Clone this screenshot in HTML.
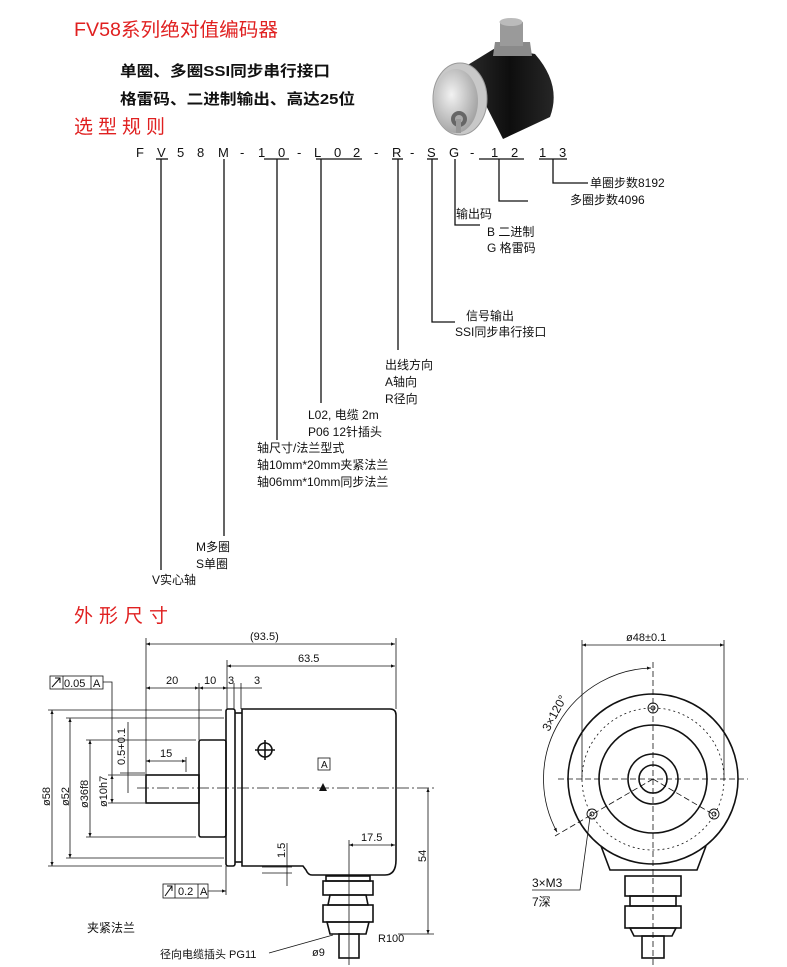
<!DOCTYPE html>
<html><head><meta charset="utf-8"><style>
html,body{margin:0;padding:0;background:#fff;}
svg{display:block;}
text{font-family:"Liberation Sans","Noto Sans CJK SC",sans-serif;fill:#111;}
.r{fill:#e02020;}
</style></head><body>
<svg width="787" height="967" viewBox="0 0 787 967" xmlns="http://www.w3.org/2000/svg">
<defs>
<radialGradient id="face" cx="0.4" cy="0.4" r="0.7"><stop offset="0" stop-color="#f2f2f2"/><stop offset="1" stop-color="#9a9a9a"/></radialGradient>
<linearGradient id="body" x1="0" y1="0" x2="1" y2="0"><stop offset="0" stop-color="#2a2a2a"/><stop offset="0.5" stop-color="#0e0e0e"/><stop offset="1" stop-color="#262626"/></linearGradient>
<marker id="ar" viewBox="0 0 10 10" refX="10" refY="5" markerWidth="7" markerHeight="5" orient="auto-start-reverse"><path d="M0,1 L10,5 L0,9z" fill="#111"/></marker>
</defs>

<!-- Header -->
<text x="74" y="36" font-size="19" class="r" textLength="204" lengthAdjust="spacingAndGlyphs">FV58系列绝对值编码器</text>
<text x="120" y="76" font-size="15" font-weight="bold" textLength="210" lengthAdjust="spacingAndGlyphs">单圈、多圈SSI同步串行接口</text>
<text x="120" y="104" font-size="15" font-weight="bold" textLength="235" lengthAdjust="spacingAndGlyphs">格雷码、二进制输出、高达25位</text>
<text x="74" y="133" font-size="19" class="r" letter-spacing="5">选型规则</text>

<!-- Photo -->
<g>
<path d="M466,66 L497,47 L535,54 Q562,85 550,117 L503,139 Z" fill="url(#body)"/>
<path d="M495,42 L530,42 L532,56 L493,56Z" fill="#8a8a8a"/>
<rect x="500" y="22" width="23" height="24" fill="#9a9a9a"/>
<ellipse cx="511" cy="22" rx="11.5" ry="4" fill="#bbb"/>
<ellipse cx="460" cy="99" rx="27" ry="36" fill="#c8c8c8" stroke="#999"/>
<ellipse cx="456" cy="101" rx="22" ry="32" fill="url(#face)"/>
<circle cx="459" cy="119" r="8" fill="#666"/>
<circle cx="459" cy="119" r="4" fill="#aaa"/>
<rect x="456" y="119" width="5" height="14" fill="#999"/>
</g>

<!-- Code -->
<g font-size="13">
<text x="136" y="157">F</text><text x="157" y="157">V</text><text x="177" y="157">5</text><text x="197" y="157">8</text><text x="218" y="157">M</text><text x="240" y="157">-</text><text x="258" y="157">1</text><text x="278" y="157">0</text><text x="297" y="157">-</text><text x="314" y="157">L</text><text x="334" y="157">0</text><text x="353" y="157">2</text><text x="374" y="157">-</text><text x="392" y="157">R</text><text x="410" y="157">-</text><text x="427" y="157">S</text><text x="449" y="157">G</text><text x="470" y="157">-</text><text x="491" y="157">1</text><text x="511" y="157">2</text><text x="539" y="157">1</text><text x="559" y="157">3</text>
</g>
<g stroke="#111" stroke-width="1.3" fill="none">
<line x1="156" y1="159" x2="168" y2="159"/><line x1="264" y1="159" x2="289" y2="159"/><line x1="316" y1="159" x2="362" y2="159"/><line x1="392" y1="159" x2="403" y2="159"/><line x1="427" y1="159" x2="438" y2="159"/><line x1="479" y1="159" x2="524" y2="159"/><line x1="539" y1="159" x2="567" y2="159"/>
<line x1="161" y1="159" x2="161" y2="570"/>
<line x1="224" y1="159" x2="224" y2="536"/>
<line x1="277" y1="159" x2="277" y2="440"/>
<line x1="321" y1="159" x2="321" y2="403"/>
<line x1="398" y1="159" x2="398" y2="350"/>
<polyline points="432,159 432,322 455,322"/>
<polyline points="455,159 455,225 480,225"/>
<polyline points="499,159 499,201 528,201"/>
<polyline points="553,159 553,183 588,183"/>
</g>
<g font-size="12">
<text x="590" y="187">单圈步数8192</text>
<text x="570" y="204">多圈步数4096</text>
<text x="456" y="218">输出码</text>
<text x="487" y="236">B 二进制</text>
<text x="487" y="252">G 格雷码</text>
<text x="466" y="320">信号输出</text>
<text x="455" y="336">SSI同步串行接口</text>
<text x="385" y="369">出线方向</text>
<text x="385" y="386">A轴向</text>
<text x="385" y="403">R径向</text>
<text x="308" y="419">L02, 电缆  2m</text>
<text x="308" y="436">P06   12针插头</text>
<text x="257" y="452">轴尺寸/法兰型式</text>
<text x="257" y="469">轴10mm*20mm夹紧法兰</text>
<text x="257" y="486">轴06mm*10mm同步法兰</text>
<text x="196" y="551">M多圈</text>
<text x="196" y="568">S单圈</text>
<text x="152" y="584">V实心轴</text>
</g>

<text x="74" y="622" font-size="19" class="r" letter-spacing="6">外形尺寸</text>

<!-- Side view -->
<g stroke="#111" stroke-width="0.8" fill="none">
<line x1="146" y1="638" x2="146" y2="775"/>
<line x1="396" y1="638" x2="396" y2="709"/>
<line x1="227" y1="660" x2="227" y2="709"/>
<line x1="199" y1="683" x2="199" y2="740"/>
<line x1="234" y1="683" x2="234" y2="709"/>
<line x1="241" y1="683" x2="241" y2="709"/>
<line x1="48" y1="710" x2="222" y2="710"/>
<line x1="66" y1="718" x2="224" y2="718"/>
<line x1="86" y1="740" x2="196" y2="740"/>
<line x1="108" y1="775" x2="145" y2="775"/>
<line x1="108" y1="803" x2="145" y2="803"/>
<line x1="86" y1="837" x2="196" y2="837"/>
<line x1="66" y1="858" x2="224" y2="858"/>
<line x1="48" y1="866" x2="222" y2="866"/>
<line x1="146" y1="644" x2="395" y2="644" marker-start="url(#ar)" marker-end="url(#ar)"/>
<line x1="227" y1="666" x2="395" y2="666" marker-start="url(#ar)" marker-end="url(#ar)"/>
<line x1="146" y1="688" x2="199" y2="688" marker-start="url(#ar)" marker-end="url(#ar)"/>
<line x1="199" y1="688" x2="227" y2="688" marker-start="url(#ar)" marker-end="url(#ar)"/>
<line x1="227" y1="688" x2="262" y2="688"/>
<line x1="146" y1="761" x2="186" y2="761" marker-start="url(#ar)" marker-end="url(#ar)"/>
<line x1="186" y1="757" x2="186" y2="772"/>
<line x1="52" y1="710" x2="52" y2="866" marker-start="url(#ar)" marker-end="url(#ar)"/>
<line x1="70" y1="718" x2="70" y2="858" marker-start="url(#ar)" marker-end="url(#ar)"/>
<line x1="90" y1="740" x2="90" y2="837" marker-start="url(#ar)" marker-end="url(#ar)"/>
<line x1="112" y1="775" x2="112" y2="803" marker-start="url(#ar)" marker-end="url(#ar)"/>
<line x1="128" y1="722" x2="128" y2="793"/>
<line x1="120" y1="773" x2="145" y2="773"/>
<line x1="428" y1="788" x2="428" y2="934" marker-start="url(#ar)" marker-end="url(#ar)"/>
<line x1="398" y1="934" x2="434" y2="934"/>
<line x1="349" y1="845" x2="395" y2="845" marker-start="url(#ar)" marker-end="url(#ar)"/>
<line x1="349" y1="840" x2="349" y2="965"/>
<line x1="287" y1="843" x2="287" y2="886"/>
<line x1="262" y1="867" x2="292" y2="867"/>
<line x1="262" y1="873" x2="292" y2="873"/>
<rect x="50" y="676" width="53" height="13"/><line x1="63" y1="676" x2="63" y2="689"/><line x1="91" y1="676" x2="91" y2="689"/>
<polyline points="103,682 112,682 112,775"/>
<rect x="163" y="884" width="45" height="14"/><line x1="175" y1="884" x2="175" y2="898"/><line x1="198" y1="884" x2="198" y2="898"/>
<line x1="208" y1="891" x2="226" y2="891" marker-end="url(#ar)"/>
<line x1="226" y1="866" x2="226" y2="895"/>
<rect x="318" y="758" width="12" height="12"/>
<line x1="137" y1="788" x2="435" y2="788" stroke-dasharray="12,3,2,3"/>
</g>
<g stroke="#111" stroke-width="1.6" fill="none">
<rect x="146" y="775" width="53" height="28"/>
<rect x="199" y="740" width="27" height="97" rx="2"/>
<rect x="226" y="709" width="9" height="157" rx="2"/>
<line x1="235" y1="713" x2="242" y2="713"/><line x1="235" y1="862" x2="242" y2="862"/>
<path d="M242,709 L390,709 Q396,709 396,715 L396,860 Q396,875 385,875 L312,875 Q308,875 306,870 L303,866 L242,866 Z"/>
<circle cx="265" cy="750" r="7"/><line x1="255" y1="750" x2="275" y2="750"/><line x1="265" y1="740" x2="265" y2="760"/>
<rect x="326" y="876" width="44" height="5"/>
<rect x="323" y="881" width="50" height="14"/>
<path d="M330,895 L366,895 L368,905 L328,905Z"/>
<rect x="323" y="905" width="50" height="17"/>
<path d="M327,922 L369,922 L366,934 L330,934Z"/>
<rect x="339" y="934" width="20" height="24"/>
</g>
<path d="M319,791 L323,783 L327,791Z" fill="#111"/>
<path d="M52,687 L60,678 M55,678 L60,678 L60,683" stroke="#111" fill="none"/>
<path d="M165,896 L172,886 M167,886 L172,886 L172,891" stroke="#111" fill="none"/>
<g font-size="11">
<text x="250" y="640">(93.5)</text>
<text x="298" y="662">63.5</text>
<text x="166" y="684">20</text><text x="204" y="684">10</text><text x="228" y="684">3</text><text x="254" y="684">3</text>
<text x="160" y="757">15</text>
<text x="64" y="687">0.05</text><text x="93" y="687">A</text>
<text x="178" y="895">0.2</text><text x="200" y="895">A</text>
<text x="321" y="768" font-size="10">A</text>
<text x="361" y="841">17.5</text>
<text x="378" y="942">R100</text>
<text x="312" y="956">ø9</text>
<text transform="translate(50,806) rotate(-90)">ø58</text>
<text transform="translate(69,806) rotate(-90)">ø52</text>
<text transform="translate(88,808) rotate(-90)">ø36f8</text>
<text transform="translate(107,807) rotate(-90)">ø10h7</text>
<text transform="translate(125,765) rotate(-90)">0.5+0.1</text>
<text transform="translate(285,858) rotate(-90)">1.5</text>
<text transform="translate(426,862) rotate(-90)">54</text>
</g>
<text x="87" y="932" font-size="12">夹紧法兰</text>
<text x="160" y="958" font-size="11">径向电缆插头 PG11</text>
<line x1="269" y1="953" x2="333" y2="935" stroke="#111" stroke-width="0.8"/>

<!-- Front view -->
<g stroke="#111" stroke-width="0.8" fill="none">
<line x1="582" y1="640" x2="582" y2="780"/><line x1="724" y1="640" x2="724" y2="780"/>
<line x1="582" y1="645" x2="724" y2="645" marker-start="url(#ar)" marker-end="url(#ar)"/>
<line x1="653" y1="662" x2="653" y2="965" stroke-dasharray="6,3"/>
<line x1="558" y1="779" x2="748" y2="779" stroke-dasharray="6,3"/>
<circle cx="653" cy="779" r="71" stroke-dasharray="2,3"/>
<line x1="653" y1="779" x2="555" y2="836" stroke-dasharray="6,3"/>
<line x1="653" y1="779" x2="716" y2="816" stroke-dasharray="6,3"/>
<path d="M651,668 A111,111 0 0 0 557,832" marker-start="url(#ar)" marker-end="url(#ar)"/>
<polyline points="590,817 580,890 532,890"/>
</g>
<g stroke="#111" stroke-width="1.6" fill="none">
<circle cx="653" cy="779" r="85"/>
<circle cx="653" cy="779" r="54"/>
<circle cx="653" cy="779" r="25"/>
<circle cx="653" cy="779" r="14"/>
<path d="M601,846 L610,870 L697,870 L706,846"/>
<rect x="625" y="876" width="56" height="20"/>
<rect x="630" y="896" width="46" height="10"/>
<rect x="625" y="906" width="56" height="22"/>
<path d="M630,928 L676,928 L672,936 L634,936Z"/>
<rect x="642" y="936" width="22" height="22"/>
</g>
<g stroke="#111" stroke-width="0.9" fill="none">
<circle cx="653" cy="708" r="5"/><circle cx="653" cy="708" r="2"/>
<circle cx="592" cy="814" r="5"/><circle cx="592" cy="814" r="2"/>
<circle cx="714" cy="814" r="5"/><circle cx="714" cy="814" r="2"/>
</g>
<text x="626" y="641" font-size="11">ø48±0.1</text>
<text transform="translate(549,732) rotate(-62)" font-size="12">3×120°</text>
<text x="532" y="887" font-size="12">3×M3</text>
<text x="532" y="906" font-size="12">7深</text>
</svg>
</body></html>
